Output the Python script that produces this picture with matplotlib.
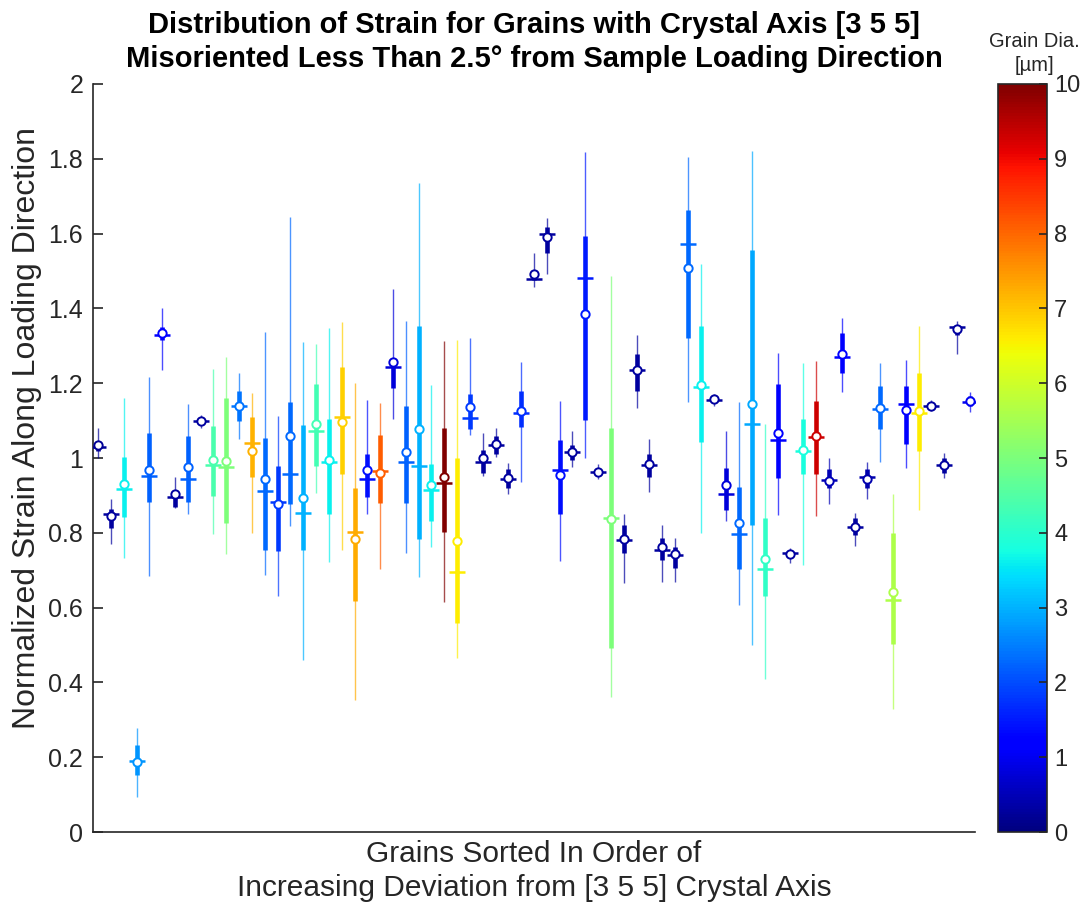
import matplotlib.pyplot as plt
import numpy as np
from matplotlib import cm, colors

plt.rcParams['font.family'] = ['Liberation Sans', 'DejaVu Sans']

# grain diameter [um], one per grain (left to right)
diameter = [0.2, 0.3, 3.6, 2.7, 2.2, 1.2, 0.3, 2.2, 0.3, 4.4, 5.0, 2.4,
            7.2, 2.3, 1.8, 2.3, 3.0, 4.3, 3.6, 6.9, 7.3, 1.4, 8.1, 0.8,
            2.2, 3.0, 3.6, 10.0, 6.6, 1.8, 0.3, 0.3, 0.3, 1.7, 0.3, 0.3,
            1.4, 0.3, 1.5, 0.3, 5.0, 0.3, 0.3, 0.3, 0.3, 0.3, 2.3, 3.6,
            0.3, 0.8, 2.3, 2.9, 4.1, 1.2, 0.3, 3.8, 9.3, 0.5, 1.1, 0.3,
            0.4, 2.3, 5.6, 1.1, 6.6, 0.3, 0.3, 0.3, 1.0]

whisk_lo = [1.00, 0.77, 0.733, 0.094, 0.685, 1.235, 0.866, 0.85, 1.08, 0.797,
            0.743, 1.05, 0.799, 0.687, 0.632, 0.818, 0.46, 0.907, 0.721, 0.754,
            0.353, 0.849, 0.702, 1.104, 0.747, 0.681, 0.763, 0.616, 0.464, 1.061,
            0.952, 1.003, 0.904, 0.935, 1.456, 1.493, 0.725, 0.975, 0.999, 0.945,
            0.361, 0.666, 1.135, 0.909, 0.669, 0.669, 1.150, 0.80, 1.14, 0.831,
            0.608, 0.501, 0.408, 0.847, 0.72, 0.713, 0.844, 0.877, 1.177, 0.765,
            0.89, 0.99, 0.329, 0.974, 0.861, 1.125, 0.947, 1.278, 1.122]
q1 = [1.02, 0.813, 0.843, 0.152, 0.883, 1.315, 0.87, 0.883, 1.09, 0.898,
      0.826, 1.099, 0.95, 0.754, 0.751, 0.877, 0.754, 0.979, 0.849, 0.957,
      0.618, 0.897, 0.879, 1.186, 0.881, 0.783, 0.832, 0.801, 0.558, 1.078,
      0.961, 1.01, 0.92, 1.083, 1.475, 1.547, 0.849, 0.995, 1.102, 0.955,
      0.491, 0.747, 1.179, 0.948, 0.727, 0.705, 1.32, 1.043, 1.148, 0.862,
      0.703, 0.822, 0.63, 0.946, 0.735, 0.956, 0.958, 0.92, 1.226, 0.795,
      0.92, 1.077, 0.504, 1.037, 1.019, 1.132, 0.96, 1.33, 1.14]
median = [1.03, 0.85, 0.917, 0.19, 0.952, 1.33, 0.895, 0.943, 1.10, 0.981,
          0.975, 1.14, 1.041, 0.913, 0.883, 0.957, 0.852, 1.072, 0.99, 1.11,
          0.801, 0.944, 0.965, 1.244, 0.99, 0.979, 0.914, 0.932, 0.696, 1.108,
          0.99, 1.035, 0.945, 1.12, 1.479, 1.60, 0.967, 1.015, 1.48, 0.963,
          0.84, 0.78, 1.235, 0.98, 0.755, 0.74, 1.571, 1.19, 1.155, 0.905,
          0.798, 1.092, 0.703, 1.048, 0.745, 1.02, 1.055, 0.94, 1.269, 0.815,
          0.95, 1.13, 0.62, 1.144, 1.12, 1.14, 0.98, 1.35, 1.15]
q3 = [1.045, 0.864, 1.003, 0.233, 1.067, 1.351, 0.905, 1.059, 1.108, 1.086,
      1.160, 1.179, 1.11, 1.054, 0.979, 1.15, 1.088, 1.197, 1.104, 1.244,
      0.921, 1.012, 1.061, 1.262, 1.139, 1.353, 0.984, 1.079, 1.001, 1.171,
      1.021, 1.06, 0.97, 1.179, 1.50, 1.617, 1.048, 1.034, 1.593, 0.972,
      1.080, 0.822, 1.279, 1.012, 0.785, 0.761, 1.663, 1.354, 1.162, 0.973,
      0.922, 1.557, 0.839, 1.198, 0.752, 1.103, 1.153, 0.97, 1.335, 0.84,
      0.97, 1.193, 0.80, 1.193, 1.228, 1.147, 1.0, 1.355, 1.165]
whisk_hi = [1.08, 0.89, 1.16, 0.278, 1.217, 1.40, 0.95, 1.144, 1.115, 1.238,
            1.27, 1.227, 1.175, 1.338, 1.112, 1.645, 1.311, 1.305, 1.348, 1.364,
            1.201, 1.156, 1.146, 1.451, 1.367, 1.735, 1.195, 1.313, 1.316, 1.32,
            1.066, 1.079, 0.987, 1.256, 1.549, 1.643, 1.152, 1.071, 1.818, 0.985,
            1.486, 0.851, 1.328, 1.05, 0.822, 0.786, 1.806, 1.518, 1.17, 1.072,
            1.15, 1.821, 1.092, 1.282, 0.76, 1.255, 1.259, 1.001, 1.373, 0.854,
            0.988, 1.253, 0.903, 1.262, 1.353, 1.155, 1.014, 1.367, 1.177]
mean = [1.035, 0.845, 0.93, 0.187, 0.968, 1.335, 0.905, 0.975, 1.099, 0.995,
        0.992, 1.139, 1.02, 0.943, 0.876, 1.059, 0.892, 1.092, 0.996, 1.097,
        0.783, 0.969, 0.959, 1.258, 1.017, 1.078, 0.928, 0.948, 0.779, 1.137,
        1.001, 1.037, 0.947, 1.126, 1.491, 1.590, 0.954, 1.017, 1.386, 0.963,
        0.837, 0.784, 1.235, 0.985, 0.761, 0.744, 1.507, 1.194, 1.157, 0.927,
        0.825, 1.145, 0.73, 1.068, 0.744, 1.021, 1.058, 0.939, 1.278, 0.815,
        0.943, 1.135, 0.641, 1.128, 1.126, 1.139, 0.981, 1.344, 1.153]

ytick_vals = [0, 0.2, 0.4, 0.6, 0.8, 1, 1.2, 1.4, 1.6, 1.8, 2]
ytick_labels = ['0', '0.2', '0.4', '0.6', '0.8', '1', '1.2', '1.4', '1.6', '1.8', '2']

fig = plt.figure(figsize=(10.81, 9.11), dpi=100)
ax = fig.add_axes([0.086, 0.0867, 0.816, 0.8211])

norm = colors.Normalize(vmin=0, vmax=10)
cmap = plt.get_cmap('jet')

xs = np.arange(1, len(diameter) + 1)
for i, x in enumerate(xs):
    c = cmap(norm(diameter[i]))
    # whisker range (thin, lighter), IQR (thick), median tick, mean circle
    ax.plot([x, x], [whisk_lo[i], whisk_hi[i]], color=c, lw=1.0, alpha=0.7,
            solid_capstyle='butt', zorder=2)
    ax.plot([x, x], [q1[i], q3[i]], color=c, lw=3.3, solid_capstyle='butt',
            zorder=3)
    ax.plot(x, median[i], marker='_', color=c, ms=11, mew=1.8, zorder=4)
    ax.plot(x, mean[i], marker='o', mfc='white', mec=c, ms=6, mew=1.4,
            zorder=5)

ax.set_xlim(0.6, 69.4)
ax.set_ylim(0, 2)
ax.set_yticks(ytick_vals)
ax.set_yticklabels(ytick_labels)
ax.set_xticks([])
ax.tick_params(axis='y', direction='in', length=7, width=1.2, pad=7,
               labelsize=18, colors='#262626')
ax.spines['right'].set_color('none')
ax.spines['top'].set_color('none')
for s in ('left', 'bottom'):
    ax.spines[s].set_color('#262626')
    ax.spines[s].set_linewidth(1.2)

ax.set_ylabel('Normalized Strain Along Loading Direction', fontsize=23,
              color='#262626')
ax.yaxis.set_label_coords(-0.058, 0.54)
ax.set_xlabel('Grains Sorted In Order of\nIncreasing Deviation from [3 5 5] Crystal Axis',
              fontsize=21.5, color='#262626', labelpad=6, linespacing=1.25)
ax.set_title('Distribution of Strain for Grains with Crystal Axis [3 5 5]\n'
             'Misoriented Less Than 2.5\u00b0 from Sample Loading Direction',
             fontsize=21, fontweight='bold', pad=12, linespacing=1.3)

cax = fig.add_axes([0.9235, 0.0867, 0.0453, 0.8211])
sm = cm.ScalarMappable(norm=norm, cmap=cmap)
cb = fig.colorbar(sm, cax=cax, ticks=range(0, 11))
cb.ax.tick_params(direction='in', length=6, width=1.2, labelsize=17, pad=5,
                  colors='#262626')
cb.outline.set_edgecolor('#262626')
cb.outline.set_linewidth(1.2)
fig.text(0.957, 0.918, 'Grain Dia.\n[\u00b5m]', ha='center', va='bottom',
         fontsize=14.5, color='#262626', linespacing=1.3)

fig.savefig('out.png', dpi=100)
